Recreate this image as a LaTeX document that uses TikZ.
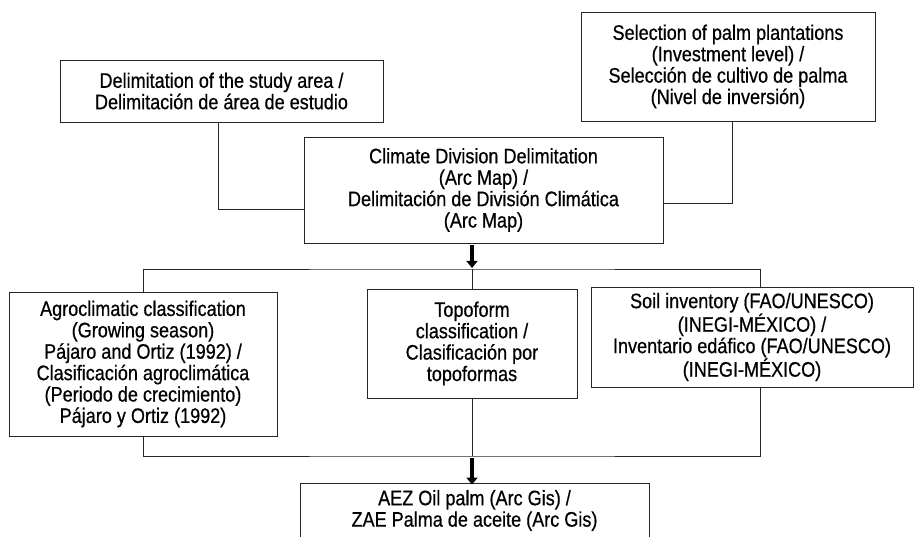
\documentclass[tikz,border=0pt]{standalone}
\usepackage{fontspec}
\setmainfont{Liberation Sans}[FakeStretch=0.86,FakeBold=0.6]
\usetikzlibrary{arrows.meta,calc}
\begin{document}
\begin{tikzpicture}[x=1pt,y=-1pt,
  box/.style={draw=black!85,line width=0.9pt,align=center,inner sep=0pt,
    font=\fontsize{21}{21.4}\selectfont},
  link/.style={draw=black!85,line width=0.9pt},
  bigarrow/.style={draw=black,line width=3.6pt,-{Triangle[width=11pt,length=7pt]}}]
\useasboundingbox (0,0) rectangle (915,537);
\clip (0,0) rectangle (915,537);
\node[box,minimum width=323,minimum height=62] (A) at (221.5,91)
  {Delimitation of the study area /\\Delimitación de área de estudio};
\node[box,minimum width=294,minimum height=109] (B) at (728,66.5)
  {Selection of palm plantations\\(Investment level) /\\Selección de cultivo de palma\\(Nivel de inversión)};
\node[box,minimum width=359,minimum height=106] (C) at (483.5,190)
  {Climate Division Delimitation\\(Arc Map) /\\Delimitación de División Climática\\(Arc Map)};
\node[box,minimum width=268,minimum height=144] (D) at (143,364)
  {Agroclimatic classification\\(Growing season)\\Pájaro and Ortiz (1992) /\\Clasificación agroclimática\\(Periodo de crecimiento)\\Pájaro y Ortiz (1992)};
\node[box,minimum width=210,minimum height=109] (E) at (472,343.5)
  {Topoform\\classification /\\Clasificación por\\topoformas};
\node[box,minimum width=322,minimum height=100] (F) at (752,337)
  {Soil inventory (FAO/UNESCO)\\(INEGI-MÉXICO) /\\Inventario edáfico (FAO/UNESCO)\\(INEGI-MÉXICO)};
\node[box,minimum width=349,minimum height=55] (G) at (474.5,510.5)
  {AEZ Oil palm (Arc Gis) /\\ZAE Palma de aceite (Arc Gis)};
\coordinate (t1) at (472,269);
\coordinate (t2) at (472,456);
\draw[link] ([xshift=-3.5pt]A.south) |- ([yshift=-19pt]C.west);
\draw[link] ([xshift=4pt]B.south) |- ([yshift=-13pt]C.east);
\draw[link] (D.north) |- (t1) -| ([xshift=8pt]F.north);
\draw[link] (t1) -- (E.north);
\draw[link] (D.south) |- (t2) -| ([xshift=8pt]F.south);
\draw[link] (E.south) -- (t2);
\draw[bigarrow] ([yshift=-2pt]t1 |- C.south) -- ([yshift=1pt]t1);
\draw[bigarrow] ([yshift=-1.5pt]t2) -- ([yshift=-2pt]t2 |- G.north);
\end{tikzpicture}
\end{document}
